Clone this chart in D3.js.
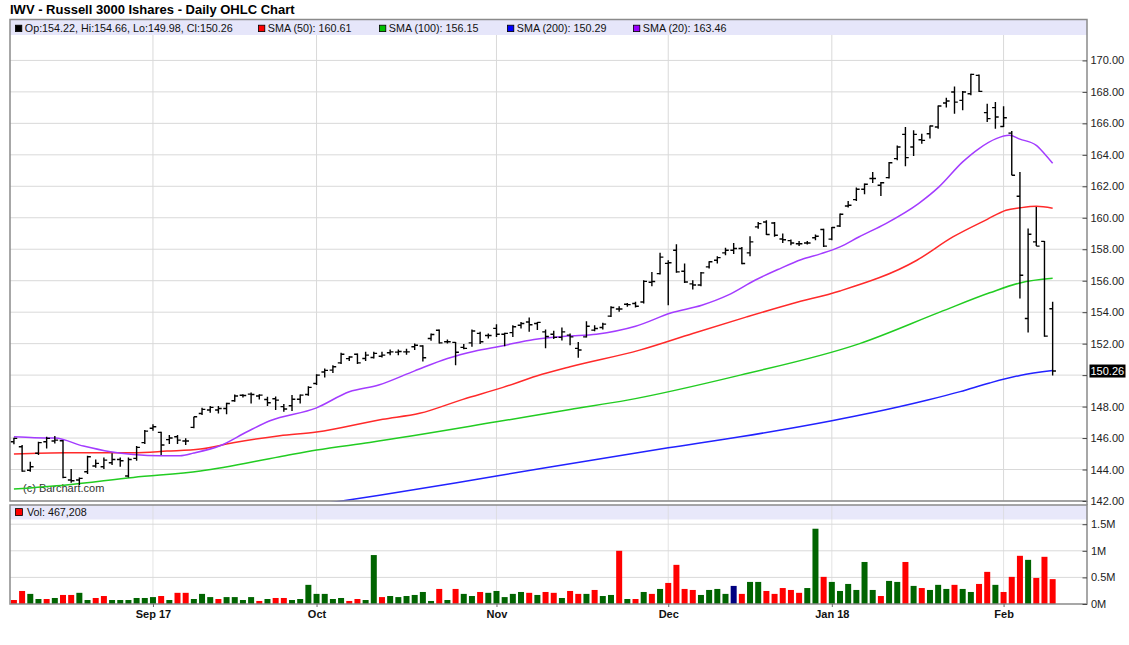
<!DOCTYPE html>
<html><head><meta charset="utf-8">
<script src="https://cdn.jsdelivr.net/npm/d3@7"></script>
<style>
body{margin:0;background:#fff;}
svg{display:block;font-family:"Liberation Sans",Arial,sans-serif;}
</style></head><body>
<svg id="c" width="1129" height="645"></svg>
<script>
// ---------- DATA ----------
const opens=[145.77,145.45,143.95,145.03,145.77,145.81,145.83,143.33,143.33,143.86,144.22,144.18,144.43,144.64,143.59,144.71,145.71,146.62,146.36,145.9,146.08,145.81,146.68,147.56,147.78,147.78,147.88,148.37,148.72,148.79,148.67,148.45,148.5,148.0,148.05,148.47,148.77,149.47,150.2,150.32,150.78,151.05,151.33,151.06,151.12,151.2,151.42,151.46,151.48,151.8,151.85,152.33,152.85,152.12,152.08,151.76,152.05,152.65,152.52,152.97,152.6,152.7,153.17,153.38,153.28,152.75,152.6,152.4,152.54,151.7,152.43,152.86,153.03,153.75,154.2,154.5,154.55,154.65,155.9,156.45,157.1,157.94,156.6,155.8,155.73,156.88,157.3,157.77,157.94,158.05,157.77,159.42,159.73,159.67,158.65,158.55,158.35,158.4,158.73,159.25,158.64,159.48,160.75,161.15,161.81,162.5,162.07,162.55,163.76,165.3,164.5,164.96,165.34,165.77,167.29,167.99,167.46,167.88,169.05,166.68,167.0,165.8,165.38,161.37,153.6,158.47,158.5,154.22];
const highs=[146.02,145.56,144.5,145.77,146.08,146.13,145.87,144.03,143.5,144.88,144.64,144.77,145.03,144.77,144.77,145.49,146.51,146.87,146.4,146.19,146.19,145.98,147.35,147.93,148.03,148.03,148.24,148.77,148.79,148.9,148.79,148.62,148.64,148.16,148.73,148.77,149.3,150.06,150.42,150.63,151.42,151.2,151.38,151.48,151.48,151.48,151.63,151.63,151.67,152.01,151.9,152.65,152.9,152.26,152.1,151.97,152.9,152.75,152.65,153.24,152.7,153.17,153.38,153.66,153.38,152.9,152.82,153.03,152.65,152.1,153.43,153.17,153.33,154.38,154.38,154.59,154.66,156.03,156.56,157.77,157.3,158.32,157.09,156.03,156.56,157.24,157.56,158.09,158.4,158.15,158.83,159.73,159.84,159.73,159.0,158.62,158.52,158.52,158.94,159.3,159.42,160.27,161.07,161.92,162.17,162.91,162.28,163.55,164.6,165.77,165.56,165.34,165.87,167.14,167.63,168.35,168.05,169.15,169.11,167.25,167.35,167.08,165.51,162.91,159.31,160.69,158.53,154.66];
const lows=[145.6,143.86,143.86,144.92,145.34,145.66,143.44,143.16,143.02,143.71,144.11,144.03,144.29,144.18,143.5,144.56,145.62,146.47,144.92,145.62,145.62,145.56,146.62,147.46,147.61,147.56,147.52,148.3,148.58,148.2,148.45,148.03,147.78,147.67,147.72,148.2,148.69,149.37,149.85,150.14,150.7,150.9,150.7,150.89,151.06,151.12,151.27,151.27,151.29,151.59,150.87,152.18,152.01,152.01,150.62,151.65,151.8,151.97,152.33,152.43,151.84,152.43,152.96,152.75,152.86,151.7,152.3,152.2,151.9,151.1,152.39,152.79,152.9,153.7,154.02,154.34,154.3,154.55,155.65,156.4,154.44,156.5,155.86,155.44,155.65,156.77,157.09,157.62,157.69,157.05,157.56,159.3,158.9,158.79,158.4,158.26,158.2,158.3,158.57,158.15,158.57,159.42,160.65,161.07,161.49,162.21,161.39,162.49,163.65,163.27,163.93,164.7,165.03,165.66,167.0,166.61,166.83,167.78,167.99,166.09,165.66,165.77,162.7,154.87,152.71,158.2,152.44,149.98];
const closes=[145.98,143.9,144.18,145.71,145.98,145.87,143.5,143.29,143.44,144.81,144.39,144.6,144.64,144.56,144.64,145.41,146.44,146.72,145.56,146.0,145.87,145.81,147.35,147.82,147.95,147.88,148.2,148.67,148.7,148.77,148.73,148.24,148.41,147.85,148.47,148.73,149.22,150.0,150.3,150.53,151.33,151.15,150.78,151.27,151.38,151.27,151.48,151.5,151.48,151.9,151.1,152.58,152.05,152.12,151.45,151.7,152.8,152.12,152.52,152.6,152.65,153.07,153.28,153.2,153.35,152.45,152.4,152.75,152.43,151.6,153.11,152.96,153.24,154.3,154.2,154.48,154.38,155.96,155.95,157.5,157.14,156.56,155.92,155.73,156.5,157.2,157.47,157.94,158.05,157.09,158.47,159.63,158.94,158.89,158.6,158.4,158.35,158.4,158.83,158.2,159.38,160.22,160.8,161.81,162.13,162.5,162.23,163.5,164.5,163.82,165.3,164.92,165.83,167.1,167.42,167.35,167.99,169.11,168.03,166.3,166.4,166.36,162.7,156.35,158.95,158.2,152.48,150.26];
const volumes=[75000,245000,190000,94000,94000,113000,170000,170000,210000,75000,113000,150000,75000,75000,75000,113000,113000,130000,150000,75000,210000,210000,94000,190000,130000,94000,130000,130000,75000,130000,57000,94000,113000,113000,75000,94000,360000,190000,190000,94000,113000,57000,94000,75000,920000,130000,150000,130000,150000,170000,226000,57000,283000,75000,283000,190000,150000,226000,210000,245000,130000,190000,226000,210000,170000,226000,210000,113000,245000,190000,190000,264000,150000,170000,1000000,94000,94000,226000,190000,283000,396000,736000,283000,264000,170000,264000,283000,190000,340000,190000,415000,415000,245000,190000,300000,264000,210000,300000,1415000,510000,415000,245000,377000,264000,790000,264000,150000,434000,415000,790000,340000,300000,264000,360000,283000,360000,283000,226000,377000,604000,360000,226000,510000,906000,830000,490000,887000,467208];
// volume bar colour class per day: u = up (green), d = down (red), n = unchanged (navy)
const volDirGroups=["dduududduu","dduuuuuudu","dduuuduuuu","dudduuuuuu","udduuduuuu","uududuuduu","uuududdudd","uduudududu","dddduuuund","uuddddduud","uuuuuuduud","uduuuduudd","uddduddd"];
const sma20Idx=[0,2.5,5,8.5,11.8,14.6,17.9,20.3,22,25.2,28.5,31.3,37,41,44.6,49,53,56.3,59.5,63.6,67.6,71.2,76,80.4,84.1,87.3,90.6,93.4,96.3,98.7,101,103.3,106.6,110.6,113.1,116,118,120.1,121.7,123,125,126,127];
const sma20Val=[146.08,146.02,146.0,145.49,145.13,144.96,144.88,144.88,145.05,145.51,146.4,147.1,147.92,148.94,149.37,150.27,151.06,151.52,151.84,152.27,152.48,152.6,153.1,153.96,154.44,155.08,156.03,156.71,157.35,157.72,158.15,158.78,159.63,160.9,161.96,163.55,164.4,165.03,165.24,165.0,164.6,164.07,163.46];
const sma50Idx=[0,6.4,14.6,18.7,22.8,26.8,32.5,37,45.1,49.6,54.9,59.8,63.9,68,76.5,83,89.6,95.2,101,110.4,114.8,119,121.3,123,125,127];
const sma50Val=[144.98,145.07,145.07,145.17,145.3,145.7,146.15,146.38,147.19,147.57,148.46,149.22,149.94,150.53,151.59,152.65,153.7,154.55,155.35,157.3,158.78,159.9,160.48,160.63,160.73,160.61];
const sma100Idx=[0,6.4,14.6,22.8,32.5,37,43.5,59,68,75,88.8,103.4,113.2,119.3,123,127];
const sma100Val=[142.76,143.02,143.5,143.9,144.81,145.24,145.72,147.03,147.82,148.41,150.0,152.0,154.0,155.23,155.86,156.15];
const sma200Idx=[36,44.7,59,80,88.8,100,105,111.6,115.7,119.3,123,127];
const sma200Val=[141.68,142.36,143.59,145.38,146.08,147.1,147.62,148.4,148.95,149.5,149.98,150.29];
const priceTicks=[142,144,146,148,150,152,154,156,158,160,162,164,166,168,170];
const volTicks=[0,500000,1000000,1500000];
const volTickLabels=["0M","0.5M","1M","1.5M"];
const monthIdx=[17,37,59,80,100,121];
const monthLabels=["Sep 17","Oct","Nov","Dec","Jan 18","Feb"];
const titleText="IWV - Russell 3000 Ishares - Daily OHLC Chart";
const legendLabels=["Op:154.22, Hi:154.66, Lo:149.98, Cl:150.26","SMA (50): 160.61","SMA (100): 156.15","SMA (200): 150.29","SMA (20): 163.46"];
const legendColors=["#000000","#ff0000","#00c000","#0000ff","#9900ff"];
const volLegend="Vol: 467,208";

// ---------- LAYOUT ----------
const volDir=volDirGroups.join("").split("");
const L=10,R=1087,pT=19.5,pB=501,vT=505,vB=604;
const legendX=[15,258,379,507,633];
const svg=d3.select("#c");
const n=closes.length;
const x=d3.scaleLinear().domain([-0.48,131.2]).range([L,R]);
const y=d3.scaleLinear().domain([142,172.6]).range([pB,pT]);
const yv=d3.scaleLinear().domain([0,1861000]).range([vB,vT]);
const gridC="#d9d9d9", borderC="#8a8a8a";
const FS=10.75;

svg.append("rect").attr("width",1129).attr("height",645).attr("fill","#fff");
const defs=svg.append("defs");
defs.append("clipPath").attr("id","clipP").append("rect").attr("x",L).attr("y",pT).attr("width",R-L).attr("height",pB-pT+0.5);
defs.append("clipPath").attr("id","clipV").append("rect").attr("x",L).attr("y",vT).attr("width",R-L).attr("height",vB-vT);

// title
svg.append("text").attr("x",10).attr("y",14).attr("font-size",13).attr("font-weight","bold").attr("fill","#000").text(titleText);

// ---------- PRICE PANEL ----------
const gp=svg.append("g");
gp.selectAll(".hg").data(priceTicks).join("line")
  .attr("x1",L).attr("x2",R).attr("y1",d=>y(d)).attr("y2",d=>y(d))
  .attr("stroke",gridC).attr("stroke-width",1);
gp.selectAll(".vg").data(monthIdx).join("line")
  .attr("x1",d=>x(d)).attr("x2",d=>x(d)).attr("y1",pT).attr("y2",pB)
  .attr("stroke",gridC).attr("stroke-width",1);
gp.append("rect").attr("x",L).attr("y",pT).attr("width",R-L).attr("height",15.5).attr("fill","#e6e6fa");

// watermark
svg.append("text").attr("x",23).attr("y",492).attr("font-size",11).attr("fill","#333")
  .attr("stroke","#fff").attr("stroke-width",2.5).attr("paint-order","stroke").text("(c) Barchart.com");

// SMA lines
const smaG=svg.append("g").attr("clip-path","url(#clipP)");
const lineGen=d3.line().x(d=>x(d[0])).y(d=>y(d[1])).curve(d3.curveMonotoneX);
[[sma100Idx,sma100Val,"#22cc22"],[sma200Idx,sma200Val,"#2222ff"],[sma50Idx,sma50Val,"#ff2a2a"],[sma20Idx,sma20Val,"#a33cff"]].forEach(([ix,vals,col])=>{
  smaG.append("path").datum(ix.map((d,i)=>[d,vals[i]])).attr("d",lineGen)
    .attr("fill","none").attr("stroke",col).attr("stroke-width",1.5);
});

// OHLC bars
const og=svg.append("g").attr("clip-path","url(#clipP)").attr("stroke","#000").attr("stroke-width",1.4);
const idx=d3.range(n);
og.selectAll(".hl").data(idx).join("line")
  .attr("x1",i=>x(i)).attr("x2",i=>x(i)).attr("y1",i=>y(highs[i])).attr("y2",i=>y(lows[i]));
og.selectAll(".op").data(idx).join("line")
  .attr("x1",i=>x(i)-3.3).attr("x2",i=>x(i)).attr("y1",i=>y(opens[i])).attr("y2",i=>y(opens[i]));
og.selectAll(".cl").data(idx).join("line")
  .attr("x1",i=>x(i)).attr("x2",i=>x(i)+3.3).attr("y1",i=>y(closes[i])).attr("y2",i=>y(closes[i]));

// border
svg.append("rect").attr("x",L).attr("y",pT).attr("width",R-L).attr("height",pB-pT)
  .attr("fill","none").attr("stroke",borderC).attr("stroke-width",1.5);

// right price axis (ticks point inward)
const lastClose=closes[n-1];
const pAxis=svg.append("g").attr("transform",`translate(${R},0)`)
  .call(d3.axisRight(y).tickValues(priceTicks).tickFormat(d3.format(".2f")).tickSizeInner(-4.5).tickSizeOuter(0).tickPadding(3.5));
pAxis.select(".domain").remove();
pAxis.selectAll("text").attr("font-size",11).attr("fill","#222").attr("font-family","Liberation Sans, Arial, sans-serif")
  .attr("display",d=>Math.abs(y(d)-y(lastClose))<12?"none":null);
pAxis.selectAll("line").attr("stroke","#444");

// last price label
const lastY=y(lastClose);
svg.append("rect").attr("x",R+2.5).attr("y",lastY-6.5).attr("width",36).attr("height",13).attr("fill","#000");
svg.append("text").attr("x",R+3.5).attr("y",lastY+4).attr("font-size",11).attr("fill","#fff").text(d3.format(".2f")(lastClose));

// legend
const lg=svg.append("g");
legendLabels.forEach((lab,k)=>{
  const lx=legendX[k];
  lg.append("rect").attr("x",lx+0.4).attr("y",25.2).attr("width",6.4).attr("height",6.4).attr("fill",legendColors[k]).attr("stroke","#000").attr("stroke-width",0.8);
  lg.append("text").attr("x",lx+9.8).attr("y",32).attr("font-size",FS).attr("fill","#111").text(lab);
});

// ---------- VOLUME PANEL ----------
const gv=svg.append("g");
gv.selectAll(".vh").data(volTicks.slice(1)).join("line")
  .attr("x1",L).attr("x2",R).attr("y1",d=>yv(d)).attr("y2",d=>yv(d)).attr("stroke",gridC);
gv.append("rect").attr("x",L).attr("y",vT).attr("width",R-L).attr("height",14.5).attr("fill","#e6e6fa").attr("opacity",0.9);
gv.selectAll(".vv").data(monthIdx).join("line")
  .attr("x1",d=>x(d)).attr("x2",d=>x(d)).attr("y1",vT).attr("y2",vB).attr("stroke",gridC).attr("opacity",0.7);
const volColor={u:"#006400",d:"#ff0000",n:"#000080"};
svg.append("g").attr("clip-path","url(#clipV)").selectAll("rect").data(idx).join("rect")
  .attr("x",i=>x(i)-3).attr("width",6).attr("y",i=>yv(volumes[i])).attr("height",i=>vB-yv(volumes[i]))
  .attr("fill",i=>volColor[volDir[i]]);
svg.append("rect").attr("x",L).attr("y",vT).attr("width",R-L).attr("height",vB-vT)
  .attr("fill","none").attr("stroke",borderC).attr("stroke-width",1.5);
svg.append("line").attr("x1",R).attr("x2",R).attr("y1",pB).attr("y2",vT).attr("stroke",borderC).attr("stroke-width",1.5);
const vAxis=svg.append("g").attr("transform",`translate(${R},0)`)
  .call(d3.axisRight(yv).tickValues(volTicks).tickFormat((d,i)=>volTickLabels[i]).tickSizeInner(-4.5).tickSizeOuter(0).tickPadding(4));
vAxis.select(".domain").remove();
vAxis.selectAll("text").attr("font-size",11).attr("fill","#222").attr("font-family","Liberation Sans, Arial, sans-serif");
vAxis.selectAll("line").attr("stroke","#444");

// volume legend
svg.append("rect").attr("x",15.4).attr("y",508.6).attr("width",7).attr("height",7).attr("fill","#ff0000").attr("stroke","#000").attr("stroke-width",0.8);
svg.append("text").attr("x",27).attr("y",516).attr("font-size",FS).attr("fill","#111").text(volLegend);

// x axis
const xAxis=svg.append("g").attr("transform",`translate(0,${vB})`)
  .call(d3.axisBottom(x).tickValues(monthIdx).tickFormat((d,i)=>monthLabels[i]).tickSize(3).tickPadding(3));
xAxis.select(".domain").remove();
xAxis.selectAll("text").attr("font-size",11).attr("font-weight","bold").attr("fill","#111").attr("font-family","Liberation Sans, Arial, sans-serif");
xAxis.selectAll("line").attr("stroke","#666");
</script>
</body></html>
